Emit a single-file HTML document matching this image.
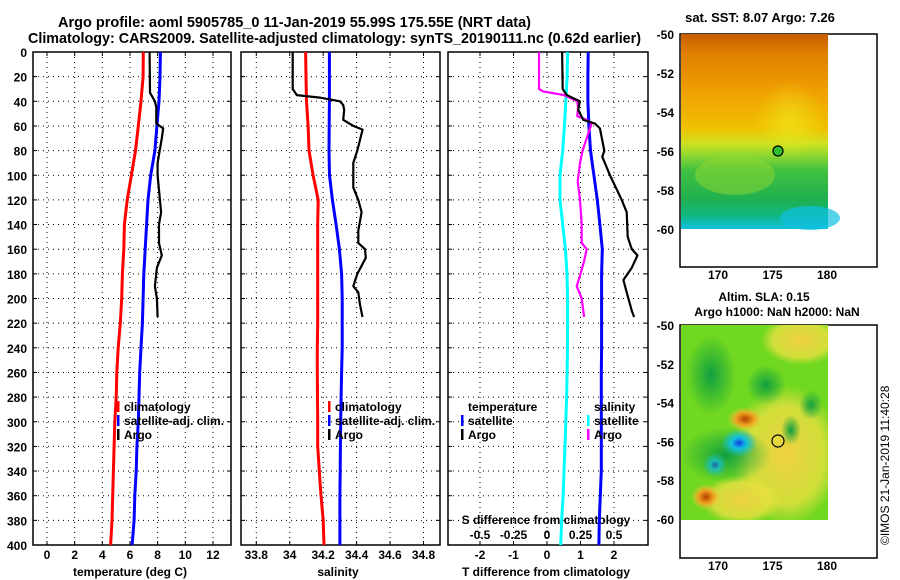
<!DOCTYPE html>
<html><head><meta charset="utf-8"><style>
body{margin:0;background:#fff}
svg{display:block;font-family:"Liberation Sans",sans-serif;font-weight:bold}
</style></head><body>
<svg id="chart" width="900" height="580" viewBox="0 0 900 580">
<defs>
<linearGradient id="sstg" x1="0" y1="0" x2="0" y2="1">
<stop offset="0" stop-color="#c85c00"/><stop offset="0.1" stop-color="#e08000"/><stop offset="0.3" stop-color="#f0a000"/><stop offset="0.48" stop-color="#f0c000"/><stop offset="0.56" stop-color="#d0e020"/><stop offset="0.62" stop-color="#90d830"/><stop offset="0.7" stop-color="#40c040"/><stop offset="0.85" stop-color="#20b050"/><stop offset="0.93" stop-color="#10b880"/><stop offset="1" stop-color="#10c0e0"/>
</linearGradient>
<radialGradient id="rb"><stop offset="0" stop-color="#1040e0"/><stop offset="0.4" stop-color="#10c0e0"/><stop offset="1" stop-color="#10c0e0" stop-opacity="0"/></radialGradient>
<radialGradient id="rbr"><stop offset="0" stop-color="#b04000"/><stop offset="0.5" stop-color="#f0a020"/><stop offset="1" stop-color="#f0d040" stop-opacity="0"/></radialGradient>
<radialGradient id="ry"><stop offset="0" stop-color="#f0d040"/><stop offset="0.7" stop-color="#e8e040" stop-opacity="0.8"/><stop offset="1" stop-color="#e8e040" stop-opacity="0"/></radialGradient>
<radialGradient id="rg"><stop offset="0" stop-color="#10a040"/><stop offset="1" stop-color="#10a040" stop-opacity="0"/></radialGradient>
<radialGradient id="ryl"><stop offset="0" stop-color="#f0f020"/><stop offset="1" stop-color="#f0f020" stop-opacity="0"/></radialGradient>
</defs>
<text x="58" y="27" font-size="15" textLength="473" lengthAdjust="spacingAndGlyphs">Argo profile: aoml 5905785_0 11-Jan-2019 55.99S 175.55E (NRT data)</text>
<text x="28" y="43" font-size="15" textLength="613" lengthAdjust="spacingAndGlyphs">Climatology: CARS2009. Satellite-adjusted climatology: synTS_20190111.nc (0.62d earlier)</text>
<g id="g"></g>
<g>
<text x="760" y="22" font-size="13" text-anchor="middle">sat. SST: 8.07 Argo: 7.26</text>
<rect x="680" y="34" width="197" height="233" fill="#fff" stroke="#000" stroke-width="1.5"/>
<rect x="681" y="34" width="147" height="195" fill="url(#sstg)"/>
<ellipse cx="790" cy="120" rx="35" ry="40" fill="url(#ryl)" opacity="0.6"/>
<ellipse cx="810" cy="218" rx="30" ry="12" fill="#10c0e0" opacity="0.7"/>
<ellipse cx="735" cy="175" rx="40" ry="20" fill="#90d830" opacity="0.5"/>
<circle cx="778" cy="151" r="5" fill="#30c030" stroke="#000" stroke-width="1.2"/>
</g>
<g>
<text x="764" y="301" font-size="12" text-anchor="middle">Altim. SLA: 0.15</text>
<text x="777" y="316" font-size="12" text-anchor="middle">Argo h1000: NaN h2000: NaN</text>
<rect x="680" y="325" width="197" height="233" fill="#fff" stroke="#000" stroke-width="1.5"/>
<svg x="681" y="325" width="147" height="195" overflow="hidden">
<rect x="0" y="0" width="147" height="195" fill="#70d820"/>
<ellipse cx="120" cy="15" rx="40" ry="25" fill="url(#ry)"/>
<ellipse cx="105" cy="130" rx="55" ry="70" fill="url(#ry)"/>
<ellipse cx="60" cy="175" rx="40" ry="25" fill="url(#ry)"/>
<ellipse cx="30" cy="50" rx="25" ry="40" fill="url(#rg)"/>
<ellipse cx="85" cy="60" rx="20" ry="20" fill="url(#rg)"/>
<ellipse cx="130" cy="80" rx="12" ry="15" fill="url(#rg)"/>
<ellipse cx="110" cy="105" rx="10" ry="15" fill="url(#rg)"/>
<ellipse cx="45" cy="130" rx="45" ry="28" fill="url(#rg)"/>
<ellipse cx="58" cy="118" rx="18" ry="14" fill="url(#rb)"/>
<ellipse cx="34" cy="140" rx="12" ry="12" fill="url(#rb)" opacity="0.7"/>
<ellipse cx="64" cy="94" rx="18" ry="12" fill="url(#rbr)"/>
<ellipse cx="25" cy="172" rx="15" ry="13" fill="url(#rbr)"/>
</svg>
<circle cx="778" cy="441" r="6" fill="none" stroke="#000" stroke-width="1.2"/>
</g>
<text transform="translate(889,545) rotate(-90)" font-size="12" font-weight="normal">©IMOS 21-Jan-2019 11:40:28</text>
</svg>
<script>
const depthsModel=[0,20,40,60,80,100,120,140,160,180,200,220,240,260,280,300,320,340,360,380,400];
const tempClim=[6.96,6.95,6.8,6.6,6.4,6.1,5.8,5.6,5.55,5.45,5.4,5.3,5.15,5.05,5.0,4.9,4.85,4.8,4.75,4.7,4.6];
const tempSat=[8.2,8.17,8.1,7.95,7.8,7.5,7.3,7.2,7.1,7.0,6.95,6.9,6.8,6.7,6.65,6.6,6.5,6.45,6.35,6.3,6.15];
const salClim=[34.095,34.097,34.1,34.11,34.115,34.14,34.17,34.167,34.167,34.167,34.167,34.167,34.165,34.165,34.166,34.167,34.167,34.177,34.187,34.2,34.205];
const salSat=[34.237,34.237,34.237,34.236,34.235,34.238,34.255,34.277,34.297,34.31,34.314,34.314,34.314,34.31,34.307,34.305,34.303,34.302,34.3,34.3,34.3];
const sDiffSat=[0.154,0.15,0.14,0.13,0.117,0.097,0.097,0.117,0.137,0.149,0.154,0.154,0.153,0.15,0.146,0.14,0.134,0.127,0.12,0.11,0.102];
const tDiffSat=[1.23,1.22,1.22,1.25,1.3,1.4,1.5,1.58,1.65,1.63,1.63,1.63,1.63,1.62,1.62,1.62,1.62,1.62,1.59,1.56,1.55];
const depthsTA=[0,33,40,45,58,62,70,90,100,130,140,155,165,175,190,200,215];
const tempArgo=[7.42,7.45,7.8,7.9,7.9,8.4,8.3,8.0,8.0,8.25,8.1,8.1,8.3,7.95,7.8,7.95,8.0];
const depthsSA=[0,30,35,37,40,43,47,55,60,63,80,90,105,110,120,130,145,155,160,167,180,190,195,205,215];
const salArgo=[34.018,34.018,34.042,34.18,34.3,34.32,34.326,34.32,34.38,34.436,34.404,34.38,34.38,34.38,34.41,34.43,34.41,34.41,34.45,34.455,34.404,34.38,34.41,34.42,34.435];
const depthsSD=[0,30,32,35,40,45,52,55,58,70,80,90,105,120,140,155,160,170,180,190,200,215];
const sDiffArgo=[-0.06,-0.06,-0.028,0.127,0.226,0.231,0.226,0.296,0.333,0.296,0.266,0.246,0.229,0.246,0.259,0.259,0.296,0.276,0.25,0.222,0.259,0.277];
const depthsTD=[0,30,35,40,47,55,58,62,80,85,100,120,130,150,160,165,175,185,195,210,215];
const tDiffArgo=[0.45,0.47,0.59,0.98,0.93,1.08,1.43,1.58,1.71,1.65,1.88,2.23,2.38,2.41,2.53,2.7,2.53,2.28,2.38,2.53,2.6];
const depthTicks=[0,20,40,60,80,100,120,140,160,180,200,220,240,260,280,300,320,340,360,380,400];
const tempTicks=[0,2,4,6,8,10,12];
const salTicks=[33.8,34,34.2,34.4,34.6,34.8];
const tdTicks=[-2,-1,0,1,2];
const sdTicks=[-0.5,-0.25,0,0.25,0.5];
const sdTickLabels=["-0.5","-0.25","0","0.25","0.5"];
const latTicks=[-50,-52,-54,-56,-58,-60];
const lonTicks=[170,175,180];

const NS='http://www.w3.org/2000/svg';
const G=document.getElementById('g');
const yD=d=>52+d*1.2325;
const xT=t=>47+t*13.83;
const xS=s=>256.3+(s-33.8)*167.2;
const xTD=v=>547+v*33.5;
const xSD=v=>547+v*134;
function mk(tag,attrs,parent){const e=document.createElementNS(NS,tag);for(const k in attrs)e.setAttribute(k,attrs[k]);(parent||G).appendChild(e);return e;}
function txt(x,y,s,anchor,size){const e=mk('text',{x:x,y:y,'font-size':size||12,'text-anchor':anchor||'start'});e.textContent=s;return e;}

const panels=[{x0:33,x1:231,name:'temperature'},{x0:241,x1:440,name:'salinity'},{x0:448,x1:648,name:'difference'}];
panels.forEach((p,i)=>{
  const gp=mk('g',{});
  
  
  depthTicks.forEach(d=>{if(d>0&&d<400){const l=mk('line',{x1:p.x0,x2:p.x1,y1:yD(d),y2:yD(d),stroke:'#000','stroke-width':1,'stroke-dasharray':'1,4'},gp);
    
    
    mk('line',{x1:p.x0,x2:p.x0+4,y1:yD(d),y2:yD(d),stroke:'#000'},gp);mk('line',{x1:p.x1-4,x2:p.x1,y1:yD(d),y2:yD(d),stroke:'#000'},gp);}});
  const ticks=i==0?tempTicks.map(xT):i==1?salTicks.map(xS):tdTicks.map(xTD);
  ticks.forEach(x=>{const l=mk('line',{x1:x,x2:x,y1:yD(0),y2:yD(400),stroke:'#000','stroke-width':1,'stroke-dasharray':'1,4'},gp);
    
    
    mk('line',{x1:x,x2:x,y1:yD(0),y2:yD(0)+4,stroke:'#000'},gp);mk('line',{x1:x,x2:x,y1:yD(400)-4,y2:yD(400),stroke:'#000'},gp);});
  const r=mk('rect',{x:p.x0,y:yD(0),width:p.x1-p.x0,height:yD(400)-yD(0),fill:'none',stroke:'#000','stroke-width':1.5},gp);
  
  
});
depthTicks.forEach(d=>{const t=txt(27,yD(d)+5,String(d),'end');
  
  });
tempTicks.forEach(v=>{const t=txt(xT(v),559,String(v),'middle');
  
  });
salTicks.forEach(v=>{const t=txt(xS(v),559,String(v),'middle');
  
  });
tdTicks.forEach(v=>{const t=txt(xTD(v),559,String(v),'middle');
  
  });
sdTicks.forEach((v,i)=>{const t=txt(xSD(v),539,sdTickLabels[i],'middle');
  
  });
let t;
t=txt(130,576,'temperature (deg C)','middle');


t=txt(338,576,'salinity','middle');


t=txt(546,576,'T difference from climatology','middle');


t=txt(546,524,'S difference from climatology','middle');



function series(xs,ds,xf,color,w,name){
  const pts=xs.map((v,i)=>xf(v).toFixed(1)+','+yD(ds[i]).toFixed(1)).join(' ');
  const l=mk('polyline',{points:pts,fill:'none',stroke:color,'stroke-width':w,'stroke-linejoin':'round'});
  
  
}
series(tempClim,depthsModel,xT,'#f00',3,'temp-climatology-line');
series(tempSat,depthsModel,xT,'#00f',3,'temp-satellite-adj-line');
series(tempArgo,depthsTA,xT,'#000',2.2,'temp-argo-line');
series(salClim,depthsModel,xS,'#f00',3,'sal-climatology-line');
series(salSat,depthsModel,xS,'#00f',3,'sal-satellite-adj-line');
series(salArgo,depthsSA,xS,'#000',2.2,'sal-argo-line');
series(sDiffSat,depthsModel,xSD,'#00ffff',3,'s-diff-satellite-line');
series(tDiffSat,depthsModel,xTD,'#00f',3,'t-diff-satellite-line');
series(sDiffArgo,depthsSD,xSD,'#ff00ff',2.2,'s-diff-argo-line');
series(tDiffArgo,depthsTD,xTD,'#000',2.2,'t-diff-argo-line');

function legend(x,y,color,label){
  const g=mk('g',{});
  
  
  mk('rect',{x:x,y:y-10,width:2.5,height:11,fill:color},g);
  const e=mk('text',{x:x+7,y:y,'font-size':12},g);e.textContent=label;
}
legend(117,411,'#f00','climatology');legend(117,425,'#00f','satellite-adj. clim.');legend(117,439,'#000','Argo');
legend(328,411,'#f00','climatology');legend(328,425,'#00f','satellite-adj. clim.');legend(328,439,'#000','Argo');
t=txt(468,411,'temperature');


legend(461,425,'#00f','satellite');legend(461,439,'#000','Argo');
t=txt(594,411,'salinity');


legend(587,425,'#00ffff','satellite');legend(587,439,'#ff00ff','Argo');

const yLat1=l=>34+(-50-l)*19.5, yLat2=l=>325+(-50-l)*19.4, xLon=l=>718+(l-170)*10.9;
[[yLat1,267,279],[yLat2,558,570]].forEach(([yf,bot,ly])=>{
  latTicks.forEach(l=>{const e=txt(674,yf(l)+5,String(l),'end');
    
    
    mk('line',{x1:680,x2:684,y1:yf(l),y2:yf(l),stroke:'#000'});mk('line',{x1:873,x2:877,y1:yf(l),y2:yf(l),stroke:'#000'});});
  lonTicks.forEach(l=>{const e=txt(xLon(l),ly,String(l),'middle');
    
    
    mk('line',{x1:xLon(l),x2:xLon(l),y1:bot-4,y2:bot,stroke:'#000'});mk('line',{x1:xLon(l),x2:xLon(l),y1:yf(-50),y2:yf(-50)+4,stroke:'#000'});});
});
</script>
</body></html>
